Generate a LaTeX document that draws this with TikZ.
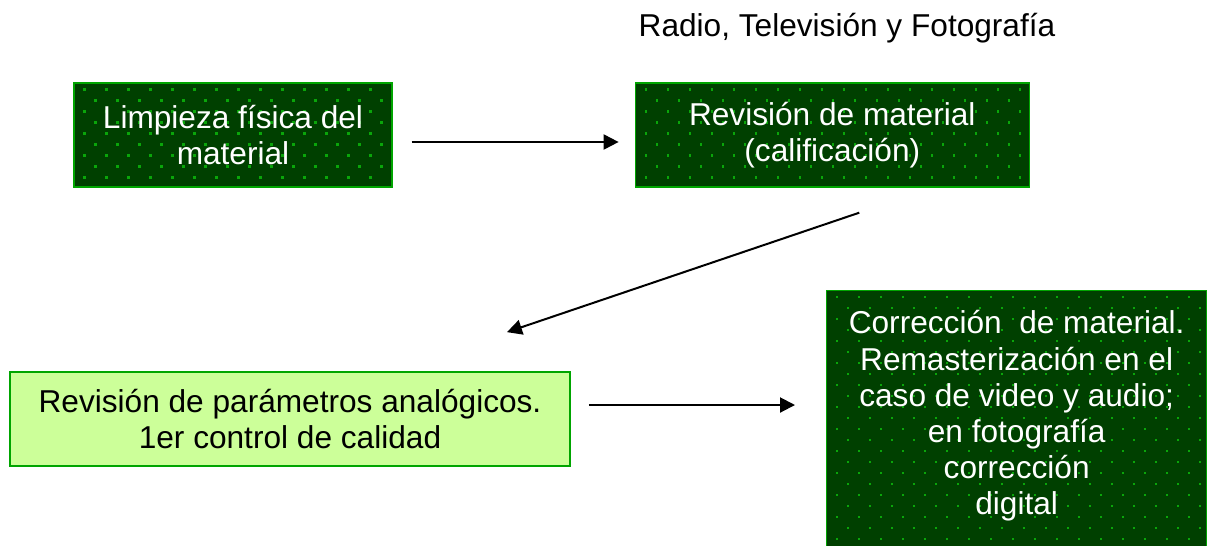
\documentclass[tikz,border=0pt]{standalone}
\usepackage{fontspec}
\setmainfont{Liberation Sans}
\usetikzlibrary{positioning,calc,arrows.meta,backgrounds}
\definecolor{DarkGreen}{RGB}{0,64,0}
\definecolor{EdgeGreen}{RGB}{0,165,0}
\definecolor{DotGreen}{RGB}{10,165,10}
\definecolor{PaleGreen}{RGB}{204,255,153}
\newcommand{\darkfill}[1]{%
  \begin{scope}[on background layer]
    \fill[DarkGreen] (#1.south west) rectangle (#1.north east);
    \begin{scope}
      \clip (#1.south west) rectangle (#1.north east);
      \foreach \i in {0,...,18}
        \foreach \j in {0,...,12}{
          \fill[DotGreen] ([shift={(0.44cm*\i+0.2cm,-0.44cm*\j-0.12cm)}]#1.north west)
            rectangle +(0.045cm,-0.045cm);
          \fill[DotGreen] ([shift={(0.44cm*\i+0.42cm,-0.44cm*\j-0.34cm)}]#1.north west)
            rectangle +(0.045cm,-0.045cm);
        }
    \end{scope}
  \end{scope}}
\tikzset{
  dbox/.style={draw=EdgeGreen,line width=0.8pt,text=white,
               align=center,inner sep=0pt},
  lbox/.style={draw=EdgeGreen,fill=PaleGreen,line width=1pt,text=black,
               align=center,inner sep=0pt},
  arr/.style={-{Triangle[length=0.3cm,width=0.3cm]},line width=0.04cm},
}

\begin{document}
\begin{tikzpicture}[x=0.02cm,y=-0.02cm,font=\fontsize{18}{20.6}\selectfont]
  \useasboundingbox (0,0) rectangle (1213,545);
  \node (t) at (847,28) {Radio, Televisión y Fotografía};
  \node[dbox,minimum width=6.36cm,minimum height=2.08cm] (a) at (233,135)
    {Limpieza física del\\material};
  \node[dbox,minimum width=7.88cm,minimum height=2.08cm,right=4.84cm of a] (b)
    {Revisión de material\\(calificación)};
  \node[lbox,minimum width=11.2cm,minimum height=1.88cm] (c) at (290,419)
    {Revisión de parámetros analógicos.\\1er control de calidad};
  \node[dbox,anchor=north west,minimum width=7.6cm,inner ysep=0.4cm,
        text depth=1.6cm] (d) at (826,290)
    {Corrección\ \ de material.\\Remasterización en el\\caso de video y audio;\\
     en fotografía\\corrección\\digital};
  \darkfill{a}
  \darkfill{b}
  \darkfill{d}
  \draw[arr,shorten <=0.38cm,shorten >=0.32cm]
    ([yshift=-0.14cm]a.east) -- ([yshift=-0.14cm]b.west);
  \draw[arr] ([shift={(0.54cm,-0.5cm)}]b.south) -- ([shift={(4.34cm,0.78cm)}]c.north);
  \draw[arr,shorten <=0.36cm,shorten >=0.62cm]
    ([yshift=0.28cm]c.east) -- ($(c.east -| d.west)+(0,0.28cm)$);
\end{tikzpicture}
\end{document}
